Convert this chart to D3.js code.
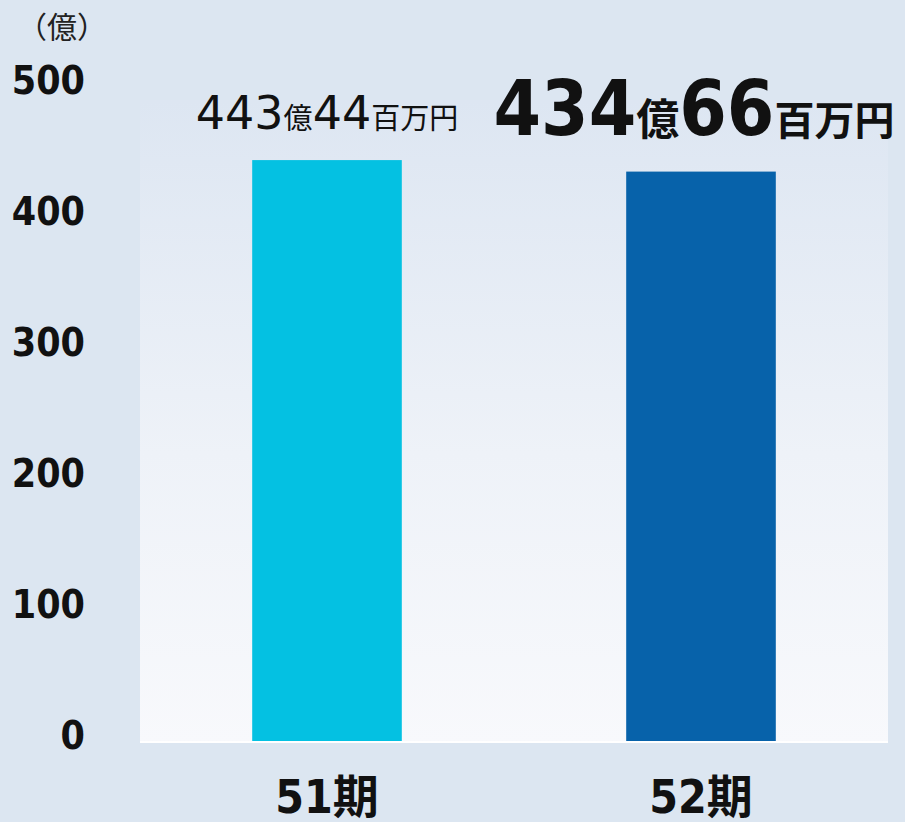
<!DOCTYPE html>
<html>
<head>
<meta charset="utf-8">
<script src="https://cdn.jsdelivr.net/npm/d3@7/dist/d3.min.js"></script>
<style>
  html, body { margin: 0; padding: 0; background: #dce6f1; }
  svg { display: block; }
  .cond { font-family: "DejaVu Sans Condensed", "DejaVu Sans", "Noto Sans CJK JP", sans-serif; font-stretch: condensed; }
  .reg { font-family: "DejaVu Sans", "Noto Sans CJK JP", sans-serif; }
  .cjk { font-family: "Noto Sans CJK JP", sans-serif; }
</style>
</head>
<body>
<script>
const categories = ["51期", "52期"];
const values = [443.44, 434.66];
const labelMain = [["443", "億"], ["434", "億"]];
const labelSub = [["44", "百万円"], ["66", "百万円"]];
const yTicks = [0, 100, 200, 300, 400, 500];
const unitLabel = "（億）";
const colors = ["#04c1e2", "#0762aa"];

const W = 905, H = 822;
const plot = { left: 140, right: 888, top: 100, bottom: 742 };

const svg = d3.select("body").append("svg").attr("width", W).attr("height", H);

const defs = svg.append("defs");
const grad = defs.append("linearGradient").attr("id", "pg").attr("x1", 0).attr("y1", 0).attr("x2", 0).attr("y2", 1);
grad.append("stop").attr("offset", "0%").attr("stop-color", "#dde6f2");
grad.append("stop").attr("offset", "55%").attr("stop-color", "#eef2f8");
grad.append("stop").attr("offset", "100%").attr("stop-color", "#f8f9fc");

svg.append("rect").attr("width", W).attr("height", H).attr("fill", "#dce6f1");

const x = d3.scaleBand().domain(categories).range([plot.left, plot.right]).paddingInner(0.6).paddingOuter(0.3);
const y = d3.scaleLinear().domain([0, 500]).range([741, 86]);

svg.append("rect")
  .attr("x", plot.left).attr("y", plot.top)
  .attr("width", plot.right - plot.left).attr("height", plot.bottom - plot.top + 1)
  .attr("fill", "url(#pg)");
svg.append("rect")
  .attr("x", plot.left).attr("y", 741)
  .attr("width", plot.right - plot.left).attr("height", 2)
  .attr("fill", "#ffffff");

// bars
svg.selectAll("rect.bar").data(categories).enter().append("rect")
  .attr("class", "bar")
  .attr("x", d => x(d))
  .attr("width", x.bandwidth())
  .attr("y", (d, i) => y(values[i]))
  .attr("height", (d, i) => y(0) - y(values[i]))
  .attr("fill", (d, i) => colors[i]);

// y axis
const yAxis = d3.axisLeft(y).tickValues(yTicks).tickSize(0).tickPadding(0);
const ya = svg.append("g").attr("transform", "translate(85,0)").call(yAxis);
ya.select(".domain").remove();
ya.selectAll("text")
  .attr("class", "cond")
  .attr("font-size", 39).attr("font-weight", "bold").attr("fill", "#111")
  .attr("dy", "0.32em")
  .attr("y", -5);

// unit
svg.append("text").attr("class", "cjk").attr("x", 17).attr("y", 38)
  .attr("font-size", 30).attr("fill", "#222").text(unitLabel);

// x axis
const xAxis = d3.axisBottom(x).tickSize(0).tickPadding(0);
const xa = svg.append("g").attr("transform", "translate(0,813)").call(xAxis);
xa.select(".domain").remove();
xa.selectAll("text").each(function(d) {
  const t = d3.select(this);
  t.text(null).attr("dy", 0).attr("y", 0).attr("fill", "#111").attr("font-weight", "bold");
  t.append("tspan").attr("class", "cond").attr("font-size", 46).text(d.replace("期", ""));
  t.append("tspan").attr("class", "cjk").attr("font-size", 46).text("期");
});

// value labels
const vl = svg.selectAll("text.vlabel").data(categories).enter().append("text")
  .attr("class", "vlabel")
  .attr("text-anchor", "middle")
  .attr("x", (d, i) => x(d) + x.bandwidth() / 2 + (i === 0 ? 0 : -7))
  .attr("y", (d, i) => i === 0 ? 129 : 135)
  .attr("fill", "#111")
  .attr("font-weight", (d, i) => i === 0 ? "normal" : "bold");
vl.each(function(d, i) {
  const t = d3.select(this);
  const big = i === 0 ? 46 : 76;
  const numClass = i === 0 ? "reg" : "cond";
  const k1 = i === 0 ? 29 : 43;
  const k2 = i === 0 ? 29 : 40;
  t.append("tspan").attr("class", numClass).attr("font-size", big).text(labelMain[i][0]);
  t.append("tspan").attr("class", "cjk").attr("font-size", k1).text(labelMain[i][1]);
  t.append("tspan").attr("class", numClass).attr("font-size", big).text(labelSub[i][0]);
  t.append("tspan").attr("class", "cjk").attr("font-size", k2).text(labelSub[i][1]);
});
</script>
</body>
</html>
